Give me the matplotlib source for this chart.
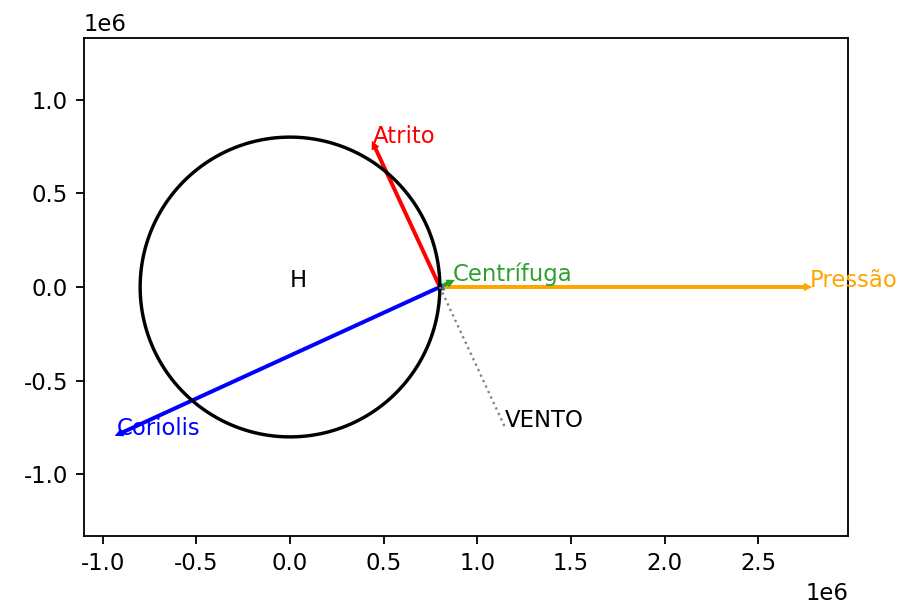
import matplotlib
matplotlib.use("Agg")
import matplotlib.pyplot as plt
import numpy as np

plt.rcParams["axes.unicode_minus"] = False

# data
origin = (0.8e6, 0.0)
radius = 0.8e6
labels = ["Pressão", "Coriolis", "Atrito", "Centrífuga"]
tips_x = [2.775e6, -0.923e6, 0.443e6, 0.868e6]
tips_y = [0.0, -0.789e6, 0.768e6, 0.032e6]
colors = ["orange", "blue", "red", "tab:green"]
vento_tip = (1.147e6, -0.747e6)
center_label = "H"

DPI = 164
fig = plt.figure(figsize=(902 / DPI, 601 / DPI), dpi=DPI)
ax = fig.add_axes([84 / 902, 1 - 536 / 601, (848 - 84) / 902, (536 - 38) / 601])

theta = np.linspace(0, 2 * np.pi, 400)
ax.plot(radius * np.cos(theta), radius * np.sin(theta), color="black", lw=1.5)

ax.text(0, 0, center_label, fontsize=10, color="black")

# wind line
ax.plot([origin[0], vento_tip[0]], [origin[1], vento_tip[1]], color="gray",
        lw=1.0, ls=":")
ax.text(vento_tip[0], vento_tip[1], "VENTO", color="black", fontsize=10)

for lab, tx, ty, c in zip(labels, tips_x, tips_y, colors):
    ax.arrow(origin[0], origin[1], tx - origin[0], ty - origin[1],
             width=9000, head_width=26000, head_length=26000,
             length_includes_head=True, color=c)
    ax.text(tx, ty, lab, color=c, fontsize=10, clip_on=False)

# small default-coloured arrow at the point
ax.arrow(origin[0], origin[1], 0.02e6, -0.012e6, width=9000, head_width=26000,
         head_length=20000, length_includes_head=True, color="tab:blue")

ax.set_xlim(-1.0998e6, 2.979e6)
ax.set_ylim(-1.329e6, 1.329e6)
ax.set_xticks(np.arange(-1.0e6, 2.51e6, 0.5e6))
ax.set_yticks(np.arange(-1.0e6, 1.01e6, 0.5e6))

fig.savefig("out.png", dpi=DPI)
